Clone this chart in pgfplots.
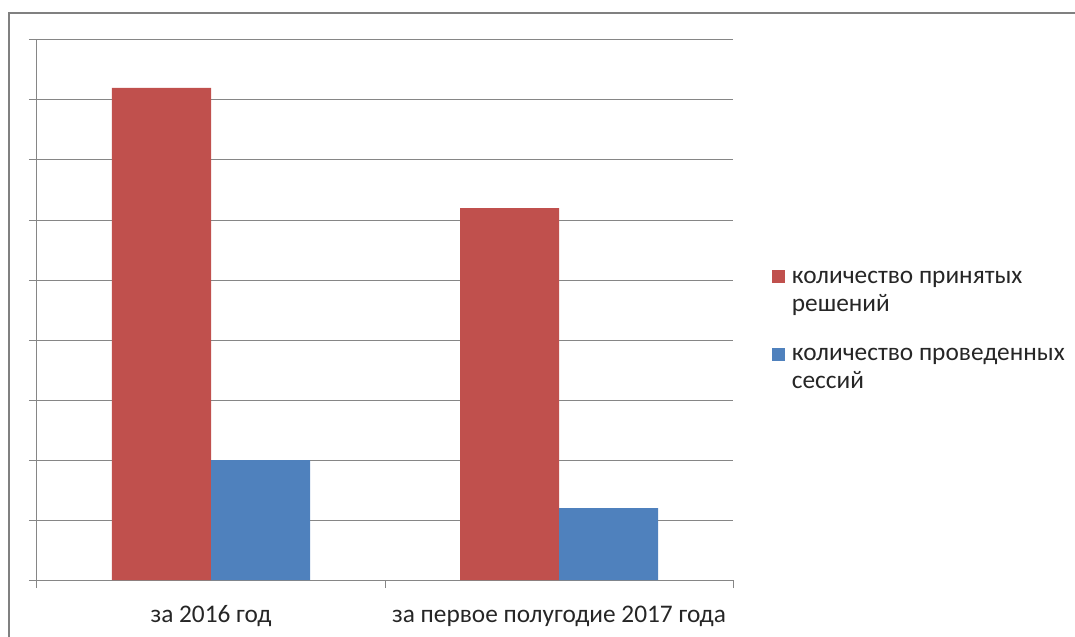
\documentclass[border=0pt]{standalone}
\usepackage{fontspec}
\setmainfont{Carlito}
\usepackage{pgfplots}
\pgfplotsset{compat=1.18}
\definecolor{xred}{HTML}{C0504D}
\definecolor{xblue}{HTML}{4F81BD}
\definecolor{gridc}{HTML}{868686}
\definecolor{framec}{HTML}{808080}
\newcommand{\two}[2]{\vtop{\hbox{\strut #1}\hbox{\strut #2}}}
\begin{document}
\begin{tikzpicture}[x=0.75pt,y=0.75pt]
\path[use as bounding box] (0,0) rectangle (1075,636);
\draw[line width=1.5pt, framec] (9,-5) -- (9,623) -- (1080,623);
\begin{axis}[
  at={(27.75pt,42pt)}, anchor=south west,
  scale only axis, width=522pt, height=405pt,
  xmin=-0.5, xmax=1.5, ymin=0, ymax=9,
  ybar=0pt, bar width=74.25pt,
  axis x line*=bottom, axis y line*=left,
  axis line style={draw=gridc, line width=0.75pt},
  ymajorgrids, grid style={draw=gridc, line width=0.75pt},
  ytick={0,1,...,9}, yticklabels={},
  xtick={-0.5,0.5,1.5}, xticklabels={},
  tick align=outside, major tick length=6pt,
  tick style={draw=gridc, line width=0.75pt},
  extra x ticks={0,1},
  extra x tick labels={за 2016 год, за первое полугодие 2017 года},
  extra x tick style={major tick length=0pt, grid=none,
     xticklabel style={anchor=base, yshift=-31.5pt}},
  xticklabel style={font=\fontsize{19}{21}\selectfont, text=black!85},
  legend style={at={(axis description cs:1.056,0.591)}, anchor=north west,
     draw=none, fill=none, font=\fontsize{19}{21}\selectfont,
     cells={anchor=base west}, inner sep=0pt, row sep=38pt, text=black!85},
  legend image code/.code={\fill[#1] (0pt,0pt) rectangle (9.75pt,9.75pt); \path (12.75pt,0pt);},
]
\addplot[fill=xred, draw=none] coordinates {(0,8.2) (1,6.2)};
\addplot[fill=xblue, draw=none] coordinates {(0,2.0) (1,1.2)};
\legend{\two{количество принятых}{решений}, \two{количество проведенных}{сессий}}
\end{axis}
\end{tikzpicture}
\end{document}
